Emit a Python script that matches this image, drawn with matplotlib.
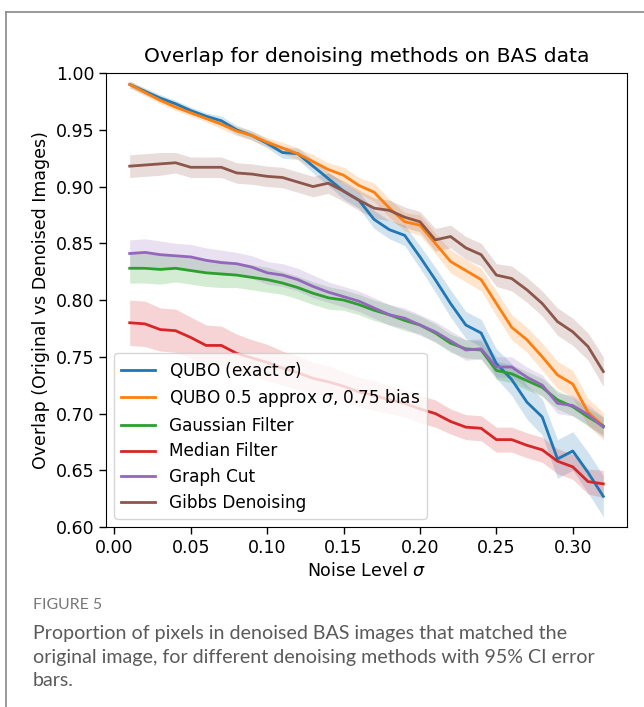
import matplotlib
matplotlib.use("Agg")
import matplotlib.pyplot as plt
from matplotlib.lines import Line2D
import numpy as np

# noise levels (x axis)
sigma = [0.01, 0.02, 0.03, 0.04, 0.05, 0.06, 0.07, 0.08, 0.09, 0.10,
         0.11, 0.12, 0.13, 0.14, 0.15, 0.16, 0.17, 0.18, 0.19, 0.20,
         0.21, 0.22, 0.23, 0.24, 0.25, 0.26, 0.27, 0.28, 0.29, 0.30,
         0.31, 0.32]

# mean overlap per method
qubo_exact = [0.990, 0.984, 0.978, 0.973, 0.967, 0.962, 0.958, 0.950, 0.945, 0.938,
              0.930, 0.929, 0.918, 0.907, 0.896, 0.888, 0.871, 0.862, 0.857, 0.838,
              0.818, 0.797, 0.778, 0.771, 0.744, 0.730, 0.710, 0.697, 0.660, 0.667,
              0.648, 0.627]
qubo_approx = [0.990, 0.983, 0.976, 0.970, 0.965, 0.960, 0.955, 0.949, 0.945, 0.939,
               0.934, 0.929, 0.922, 0.915, 0.910, 0.901, 0.895, 0.881, 0.869, 0.866,
               0.850, 0.834, 0.826, 0.818, 0.797, 0.776, 0.765, 0.750, 0.734, 0.726,
               0.701, 0.689]
gaussian = [0.828, 0.828, 0.827, 0.828, 0.826, 0.824, 0.823, 0.822, 0.820, 0.818,
            0.815, 0.811, 0.806, 0.802, 0.800, 0.796, 0.791, 0.787, 0.782, 0.778,
            0.771, 0.762, 0.757, 0.756, 0.738, 0.735, 0.729, 0.723, 0.712, 0.706,
            0.697, 0.689]
median = [0.780, 0.779, 0.774, 0.773, 0.767, 0.760, 0.760, 0.753, 0.749, 0.745,
          0.740, 0.736, 0.731, 0.728, 0.724, 0.719, 0.716, 0.712, 0.709, 0.704,
          0.700, 0.693, 0.688, 0.687, 0.677, 0.677, 0.672, 0.668, 0.658, 0.653,
          0.640, 0.638]
graph_cut = [0.841, 0.842, 0.840, 0.839, 0.838, 0.835, 0.833, 0.832, 0.829, 0.824,
             0.822, 0.818, 0.812, 0.807, 0.803, 0.799, 0.793, 0.787, 0.784, 0.778,
             0.772, 0.764, 0.756, 0.757, 0.741, 0.741, 0.732, 0.725, 0.709, 0.707,
             0.699, 0.688]
gibbs = [0.918, 0.919, 0.920, 0.921, 0.917, 0.917, 0.917, 0.912, 0.911, 0.909,
         0.908, 0.904, 0.900, 0.903, 0.896, 0.888, 0.881, 0.879, 0.873, 0.869,
         0.853, 0.856, 0.846, 0.840, 0.822, 0.819, 0.809, 0.797, 0.781, 0.772,
         0.759, 0.737]

# 95% CI half widths
ci_exact = [.003, .003, .003, .003, .003, .003, .004, .004, .004, .004,
            .005, .005, .006, .006, .007, .007, .008, .008, .009, .010,
            .011, .012, .012, .012, .013, .014, .015, .016, .017, .017,
            .018, .018]
ci_approx = [.003, .003, .003, .003, .003, .003, .004, .004, .004, .004,
             .005, .005, .006, .006, .007, .007, .008, .008, .008, .009,
             .009, .010, .010, .010, .011, .011, .011, .012, .012, .012,
             .012, .012]
ci_gauss = [.013, .013, .013, .012, .012, .012, .012, .011, .011, .011,
            .010, .010, .010, .010, .009, .009, .009, .009, .009, .008,
            .008, .008, .008, .008, .008, .008, .008, .008, .008, .008,
            .008, .008]
ci_median = [.020, .020, .019, .019, .018, .018, .017, .017, .016, .016,
             .015, .015, .014, .014, .013, .013, .013, .012, .012, .012,
             .012, .011, .011, .011, .011, .011, .011, .011, .011, .011,
             .011, .012]
ci_graph = [.012, .012, .012, .011, .011, .011, .011, .010, .010, .010,
            .010, .010, .010, .009, .009, .009, .009, .009, .009, .009,
            .009, .009, .009, .009, .009, .009, .009, .009, .009, .009,
            .009, .009]
ci_gibbs = [.010, .010, .010, .009, .009, .009, .009, .009, .009, .009,
            .009, .009, .009, .009, .009, .009, .009, .009, .009, .009,
            .010, .010, .010, .010, .010, .011, .011, .011, .012, .012,
            .012, .013]

labels = ['QUBO (exact $\\sigma$)', 'QUBO 0.5 approx $\\sigma$, 0.75 bias',
          'Gaussian Filter', 'Median Filter', 'Graph Cut', 'Gibbs Denoising']
means = [qubo_exact, qubo_approx, gaussian, median, graph_cut, gibbs]
cis = [ci_exact, ci_approx, ci_gauss, ci_median, ci_graph, ci_gibbs]
colors = ['#1f77b4', '#ff7f0e', '#2ca02c', '#d62728', '#9467bd', '#8c564b']

x_ticks = [0.00, 0.05, 0.10, 0.15, 0.20, 0.25, 0.30]
y_ticks = [0.60, 0.65, 0.70, 0.75, 0.80, 0.85, 0.90, 0.95, 1.00]

caption_lines = ['Proportion of pixels in denoised BAS images that matched the',
                 'original image, for different denoising methods with 95% CI error',
                 'bars.']

fig = plt.figure(figsize=(6.44, 7.07), dpi=100)
ax = fig.add_axes([0.1646, 0.2546, 0.809, 0.642])

x = np.array(sigma)
for m, c, col, lab in zip(means, cis, colors, labels):
    m = np.array(m)
    c = np.array(c)
    ax.fill_between(x, m - c, m + c, color=col, alpha=0.2, linewidth=0)
    ax.plot(x, m, color=col, lw=2, label=lab)

ax.set_ylim(0.6, 1.0)
ax.set_xticks(x_ticks)
ax.set_xticklabels([f"{t:.2f}" for t in x_ticks], fontsize=12.5)
ax.set_yticks(y_ticks)
ax.set_yticklabels([f"{t:.2f}" for t in y_ticks], fontsize=12.5)
ax.tick_params(length=5, width=1)
ax.set_title('Overlap for denoising methods on BAS data', fontsize=14.6, pad=8)
ax.set_xlabel('Noise Level $\\sigma$', fontsize=12.5)
ax.set_ylabel('Overlap (Original vs Denoised Images)', fontsize=12.5)
ax.legend(loc='lower left', fontsize=12.2, framealpha=0.8, handlelength=2.0,
          labelspacing=0.45)

# journal caption + frame
fig.text(0.051, 0.1386, 'FIGURE 5', fontsize=11.4, color='#777777', family='Lato')
for i, line in enumerate(caption_lines):
    fig.text(0.051, (707 - 639 - 23.5 * i) / 707, line, fontsize=14.1,
             color='#5a5a5a', family='Lato')
fig.add_artist(Line2D([0.009, 0.009], [0.0, 0.983], color='#888888', lw=1.2))
fig.add_artist(Line2D([0.009, 1.0], [0.983, 0.983], color='#888888', lw=1.2))

fig.savefig('out.png', dpi=100)
